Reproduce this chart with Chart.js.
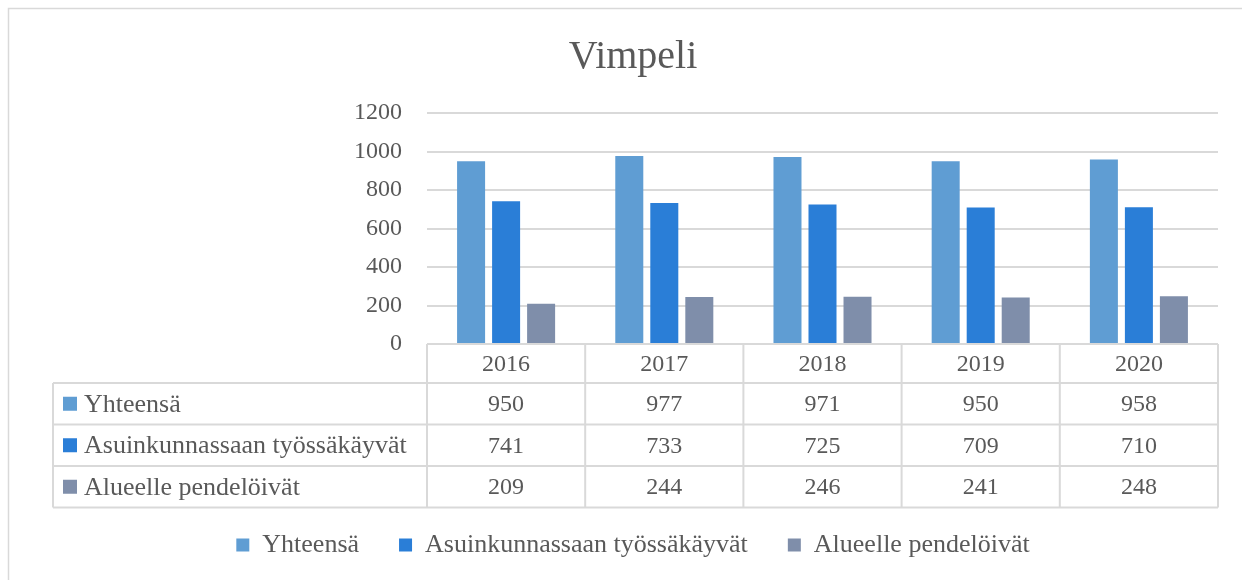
<!DOCTYPE html>
<html>
<head>
<meta charset="utf-8">
<script src="https://cdn.jsdelivr.net/npm/chart.js@4"></script>
<style>
  html, body { margin: 0; padding: 0; background: #ffffff; }
  #wrap { width: 1242px; height: 580px; position: relative; }
</style>
</head>
<body>
<div id="wrap"><canvas id="c" width="1242" height="580"></canvas></div>
<script>
const title = 'Vimpeli';
const years = ['2016', '2017', '2018', '2019', '2020'];
const seriesNames = ['Yhteensä', 'Asuinkunnassaan työssäkäyvät', 'Alueelle pendelöivät'];
const yhteensa = [950, 977, 971, 950, 958];
const asuinkunnassaan = [741, 733, 725, 709, 710];
const alueelle = [209, 244, 246, 241, 248];
const yTicks = [0, 200, 400, 600, 800, 1000, 1200];
const seriesColors = ['#5F9DD3', '#2A7ED7', '#7F8EAA'];

const FONT = "'Liberation Serif', 'Times New Roman', serif";
const TEXT = '#595959';
const LINE = '#d9d9d9';
const NUM_SIZE = 24;
const LABEL_SIZE = 26;

const tablePlugin = {
  id: 'dataTable',
  beforeDraw(chart) {
    const ctx = chart.ctx;
    ctx.save();
    ctx.strokeStyle = LINE;
    ctx.lineWidth = 1.5;
    ctx.strokeRect(8.5, 8.5, 1300, 700);
    ctx.restore();
  },
  afterDraw(chart) {
    const ctx = chart.ctx;
    const xs = chart.scales.x;
    const area = chart.chartArea;
    const half = (xs.getPixelForValue(1) - xs.getPixelForValue(0)) / 2;
    const left = 53;
    const headerH = 39;
    const rowH = 41.5;
    const top = area.bottom;
    const rowTops = [top + headerH];
    for (let r = 1; r <= seriesNames.length; r++) rowTops.push(top + headerH + r * rowH);
    const bottom = rowTops[rowTops.length - 1];
    ctx.save();
    ctx.strokeStyle = LINE;
    ctx.lineWidth = 2;
    ctx.beginPath();
    ctx.moveTo(area.left, top); ctx.lineTo(area.right, top);
    rowTops.forEach(y => { ctx.moveTo(left, y); ctx.lineTo(area.right, y); });
    ctx.moveTo(left, rowTops[0]); ctx.lineTo(left, bottom);
    for (let i = 0; i < years.length; i++) {
      const xl = xs.getPixelForValue(i) - half;
      ctx.moveTo(xl, top); ctx.lineTo(xl, bottom);
    }
    ctx.moveTo(area.right, top); ctx.lineTo(area.right, bottom);
    ctx.stroke();

    ctx.textBaseline = 'middle';
    chart.data.datasets.forEach((ds, r) => {
      const cy = (rowTops[r] + rowTops[r + 1]) / 2;
      ctx.fillStyle = ds.backgroundColor;
      ctx.fillRect(63, cy - 7, 14, 14);
      ctx.fillStyle = TEXT;
      ctx.textAlign = 'left';
      ctx.font = LABEL_SIZE + 'px ' + FONT;
      ctx.fillText(ds.label, 84, cy + 1);
      ctx.textAlign = 'center';
      ctx.font = NUM_SIZE + 'px ' + FONT;
      ds.data.forEach((v, i) => {
        ctx.fillText(String(v), xs.getPixelForValue(i), cy + 1);
      });
    });
    ctx.restore();
  }
};

new Chart(document.getElementById('c'), {
  type: 'bar',
  data: {
    labels: years,
    datasets: [
      { label: seriesNames[0], data: yhteensa, backgroundColor: seriesColors[0] },
      { label: seriesNames[1], data: asuinkunnassaan, backgroundColor: seriesColors[1] },
      { label: seriesNames[2], data: alueelle, backgroundColor: seriesColors[2] }
    ]
  },
  options: {
    responsive: false,
    animation: false,
    devicePixelRatio: 1,
    layout: { padding: { top: 10, left: 48, right: 24, bottom: 12 } },
    datasets: { bar: { categoryPercentage: 0.664, barPercentage: 0.8 } },
    plugins: {
      title: {
        display: true,
        text: title,
        color: TEXT,
        font: { family: FONT, size: 40, weight: 'normal' },
        padding: { top: 23, bottom: 32 }
      },
      legend: {
        position: 'bottom',
        labels: {
          color: TEXT,
          font: { family: FONT, size: LABEL_SIZE },
          boxWidth: 13,
          boxHeight: 13,
          padding: 40
        }
      },
      tooltip: { enabled: false }
    },
    scales: {
      x: {
        grid: { display: false, drawTicks: false },
        border: { display: false },
        ticks: { color: TEXT, font: { family: FONT, size: NUM_SIZE }, padding: 6 },
        afterFit(scale) { scale.height = 148; }
      },
      y: {
        min: 0,
        max: 1200,
        afterBuildTicks(scale) { scale.ticks = yTicks.map(v => ({ value: v })); },
        grid: { color: LINE, lineWidth: 2, drawTicks: false },
        border: { display: false },
        ticks: {
          color: TEXT,
          font: { family: FONT, size: NUM_SIZE },
          padding: 25,
          callback: (v) => String(v)
        },
        afterFit(scale) { scale.width = 379; }
      }
    }
  },
  plugins: [tablePlugin]
});
</script>
</body>
</html>
